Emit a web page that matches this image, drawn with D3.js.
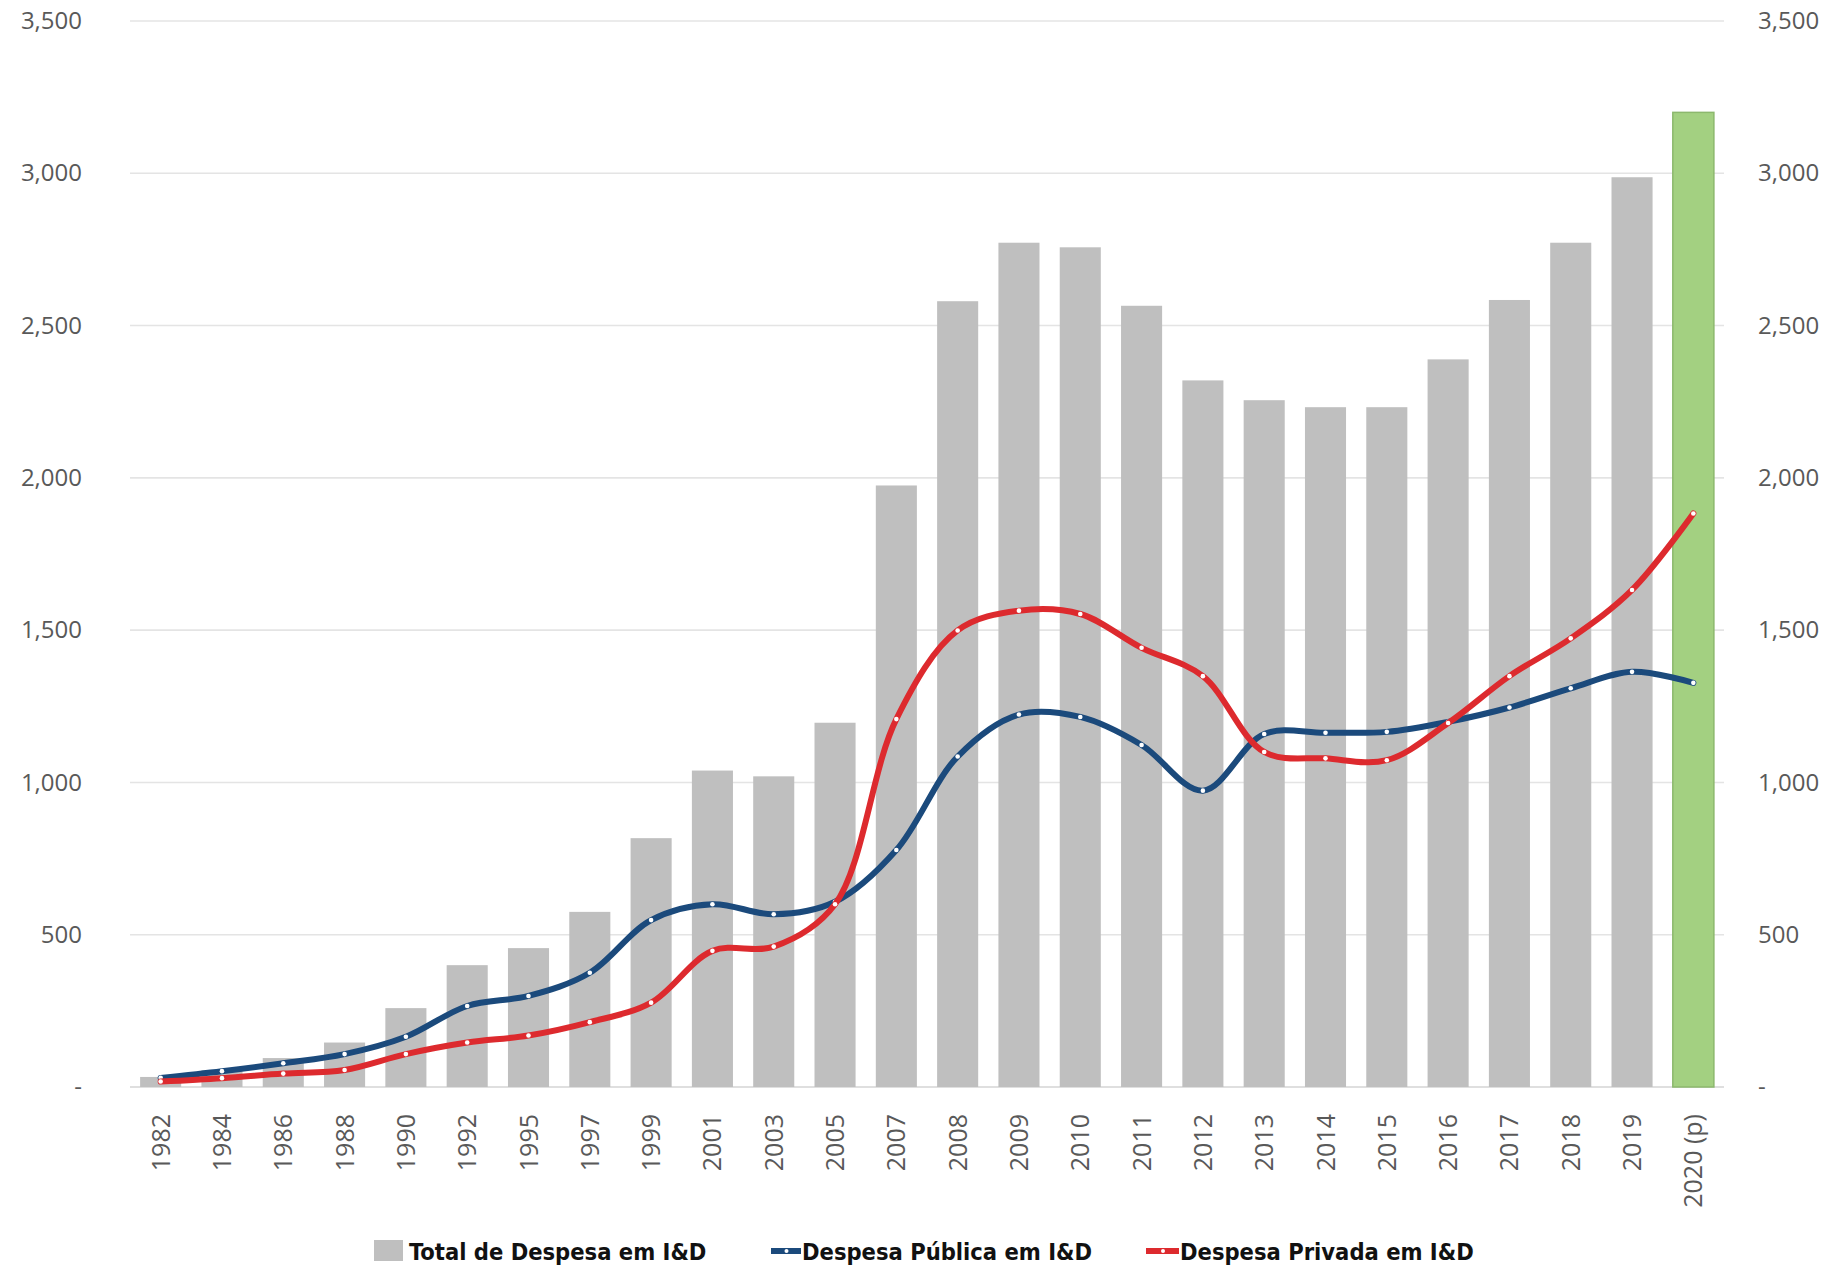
<!DOCTYPE html>
<html>
<head>
<meta charset="utf-8">
<script src="https://cdn.jsdelivr.net/npm/d3@7"></script>
<style>
  html, body { margin: 0; padding: 0; background: #ffffff; }
  svg { display: block; }
</style>
</head>
<body>
<svg id="chart" width="1831" height="1267"></svg>
<script>
// Despesa em I&D (milhões de euros), 1982–2020 (p)
const categories = ["1982","1984","1986","1988","1990","1992","1995","1997","1999","2001","2003","2005","2007","2008","2009","2010","2011","2012","2013","2014","2015","2016","2017","2018","2019","2020 (p)"];
const totalDespesa = [33,55,95,146,259,400,456,575,817,1039,1020,1196,1975,2580,2772,2757,2565,2320,2255,2232,2232,2389,2584,2772,2987,3200];
const despesaPublica = [30,52,78,108,165,266,299,375,548,600,567,608,778,1085,1223,1215,1123,973,1159,1163,1166,1199,1246,1309,1363,1327];
const despesaPrivada = [18,29,44,56,108,146,169,213,277,447,461,600,1208,1499,1564,1553,1442,1349,1100,1079,1073,1195,1349,1473,1632,1883];
const yTicks = [0,500,1000,1500,2000,2500,3000,3500];
const legendLabels = ["Total de Despesa em I&D","Despesa Pública em I&D","Despesa Privada em I&D"];

const svg = d3.select("#chart");
const plotLeft = 130, plotRight = 1724, plotTop = 21, plotBottom = 1087;

const x = d3.scaleBand().domain(categories).range([plotLeft, plotRight]).paddingInner(0.33).paddingOuter(0.165);
const y = d3.scaleLinear().domain([0, 3500]).range([plotBottom, plotTop]);

const fmt = v => v === 0 ? "-" : d3.format(",")(v);
const axisFont = "'Open Sans', 'DejaVu Sans', sans-serif";

// horizontal gridlines
svg.append("g").selectAll("line").data(yTicks).join("line")
  .attr("x1", plotLeft).attr("x2", plotRight)
  .attr("y1", d => y(d)).attr("y2", d => y(d))
  .attr("stroke", d => d === 0 ? "#d4d4d4" : "#e4e4e4")
  .attr("stroke-width", 1.6);

// left and right value axes
const leftAxis = d3.axisLeft(y).tickValues(yTicks).tickFormat(fmt).tickSize(0).tickPadding(48);
const rightAxis = d3.axisRight(y).tickValues(yTicks).tickFormat(fmt).tickSize(0).tickPadding(34);
[svg.append("g").attr("transform", `translate(${plotLeft},0)`).call(leftAxis),
 svg.append("g").attr("transform", `translate(${plotRight},0)`).call(rightAxis)].forEach(g => {
  g.select(".domain").remove();
  g.selectAll("text").attr("font-family", axisFont).attr("font-size", 24).attr("fill", "#595959");
});

// bars
svg.append("g").selectAll("rect").data(categories).join("rect")
  .attr("x", d => x(d))
  .attr("width", x.bandwidth())
  .attr("y", (d, i) => y(totalDespesa[i]))
  .attr("height", (d, i) => y(0) - y(totalDespesa[i]))
  .attr("fill", (d, i) => i === categories.length - 1 ? "#a3d081" : "#bfbfbf")
  .attr("stroke", (d, i) => i === categories.length - 1 ? "#8cb86d" : "none")
  .attr("stroke-width", 1.5);

// category axis, rotated labels
const xAxis = d3.axisBottom(x).tickSize(0).tickPadding(0);
const gx = svg.append("g").attr("transform", `translate(0,${plotBottom})`).call(xAxis);
gx.select(".domain").remove();
gx.selectAll("text")
  .attr("font-family", axisFont).attr("font-size", 25).attr("fill", "#595959")
  .attr("text-anchor", "end")
  .attr("dy", null).attr("y", 0)
  .attr("transform", "translate(9,27) rotate(-90)");

// smoothed lines with point markers
const cx = (i) => x(categories[i]) + x.bandwidth() / 2;
const series = [
  { values: despesaPublica, color: "#1b4a7c" },
  { values: despesaPrivada, color: "#dd2a2e" }
];
const line = d3.line().x((d, i) => cx(i)).y(d => y(d)).curve(d3.curveCatmullRom.alpha(0.5));
series.forEach(s => {
  svg.append("path").datum(s.values)
    .attr("d", line).attr("fill", "none")
    .attr("stroke", s.color).attr("stroke-width", 6)
    .attr("stroke-linejoin", "round").attr("stroke-linecap", "round");
  svg.append("g").selectAll("circle").data(s.values).join("circle")
    .attr("cx", (d, i) => cx(i)).attr("cy", d => y(d)).attr("r", 2.3)
    .attr("fill", "#ffffff");
});

// legend
const legendFont = "'DejaVu Sans Condensed', 'Liberation Sans', sans-serif";
const lg = svg.append("g").attr("font-family", legendFont).attr("font-weight", "bold")
  .attr("font-size", 23.5).attr("fill", "#111111");
lg.append("rect").attr("x", 374).attr("y", 1240).attr("width", 29).attr("height", 21).attr("fill", "#bfbfbf");
lg.append("text").attr("x", 409).attr("y", 1260).text(legendLabels[0]);
[[771, 802, series[0].color, legendLabels[1]], [1146, 1180, series[1].color, legendLabels[2]]].forEach(([x0, tx, c, t]) => {
  lg.append("line").attr("x1", x0).attr("x2", tx - 1).attr("y1", 1251).attr("y2", 1251)
    .attr("stroke", c).attr("stroke-width", 6);
  lg.append("circle").attr("cx", (x0 + tx) / 2).attr("cy", 1251).attr("r", 2).attr("fill", "#ffffff");
  lg.append("text").attr("x", tx).attr("y", 1260).text(t);
});
</script>
</body>
</html>
